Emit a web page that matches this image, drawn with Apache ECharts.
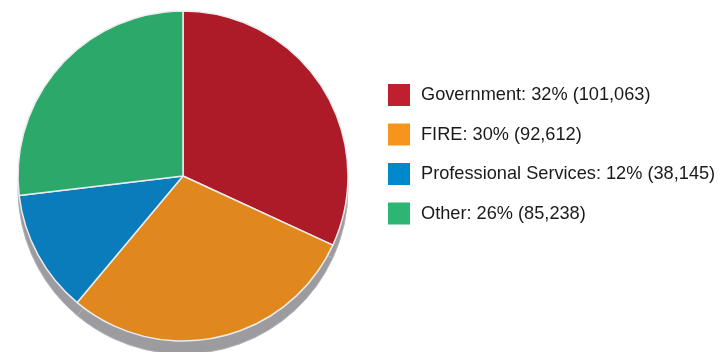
<!DOCTYPE html>
<html>
<head>
<meta charset="utf-8">
<script src="https://cdn.jsdelivr.net/npm/echarts@6/dist/echarts.min.js"></script>
<style>
  html, body { margin: 0; padding: 0; background: #fff; }
  #container { width: 722px; height: 352px; }
</style>
</head>
<body>
<div id="container"></div>
<script>
// data
var categories = ['Government', 'FIRE', 'Professional Services', 'Other'];
var values = [101063, 92612, 38145, 85238];
var shares = ['32%', '30%', '12%', '26%'];
var sliceColors = ['#ae1b28', '#e0881d', '#0a7bbb', '#2ba86a'];
var legendColors = ['#c01f2f', '#f7941e', '#0088cd', '#2cb573'];

var dom = document.getElementById('container');
var myChart = echarts.init(dom);

var pieData = categories.map(function (name, i) {
    return { name: name, value: values[i], itemStyle: { color: sliceColors[i] } };
});

var labelFor = {};
categories.forEach(function (name, i) {
    labelFor[name] = name + ': ' + shares[i] + ' (' + values[i].toLocaleString('en-US') + ')';
});

var option = {
    animation: false,
    legend: {
        orient: 'vertical',
        left: 388,
        top: 84,
        padding: 0,
        itemWidth: 22,
        itemHeight: 22,
        itemGap: 17.5,
        icon: 'rect',
        selectedMode: false,
        data: categories.map(function (name, i) {
            return { name: name, itemStyle: { color: legendColors[i], borderWidth: 0 } };
        }),
        formatter: function (name) { return labelFor[name]; },
        textStyle: {
            fontFamily: 'Liberation Sans, Arial, sans-serif',
            fontSize: 18.2,
            color: '#1a1a1a',
            padding: [0, 0, 0, 6]
        }
    },
    series: [
        {
            // grey rim under the pie
            name: 'rim',
            type: 'pie',
            silent: true,
            center: [183, 189],
            radius: 165,
            startAngle: 90,
            label: { show: false },
            labelLine: { show: false },
            itemStyle: { color: '#9c9ca0', borderColor: '#b4b4b8', borderWidth: 1 },
            data: pieData.map(function (d) { return { name: d.name + ' rim', value: d.value }; }),
            z: 1
        },
        {
            name: 'share',
            type: 'pie',
            center: [183, 176],
            radius: 165,
            startAngle: 90,
            clockwise: true,
            label: { show: false },
            labelLine: { show: false },
            itemStyle: { borderColor: '#ececec', borderWidth: 1.5 },
            emphasis: { disabled: true },
            data: pieData,
            z: 2
        }
    ]
};
myChart.setOption(option, true);
</script>
</body>
</html>
